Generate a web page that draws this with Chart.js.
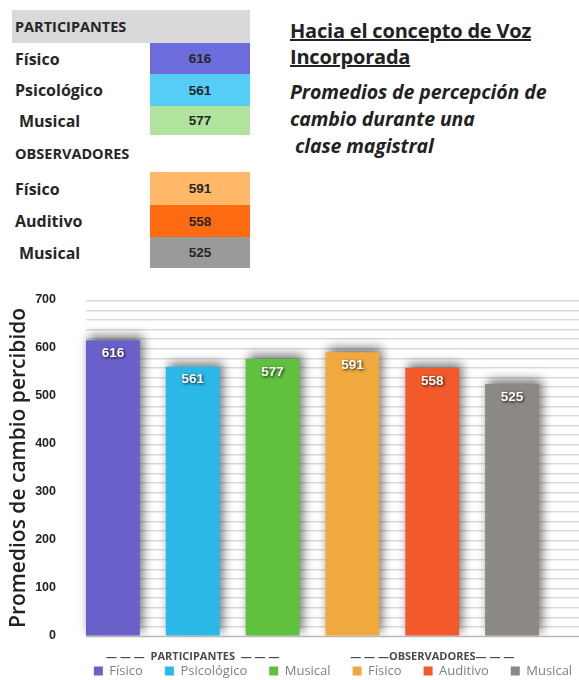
<!DOCTYPE html>
<html><head><meta charset="utf-8">
<script src="https://cdn.jsdelivr.net/npm/chart.js@4.4.1/dist/chart.umd.min.js"></script>
<style>
html,body{margin:0;padding:0;width:579px;height:680px;overflow:hidden;background:#fff;}
#tbl{position:absolute;left:12px;top:10px;width:238px;font-family:'Open Sans',sans-serif;}
.row{display:flex;align-items:stretch;}
.lab{width:138px;display:flex;align-items:center;font-weight:bold;font-size:16px;color:#262626;padding-left:3px;box-sizing:border-box;background:#fff;white-space:nowrap;}
.hdr .lab{font-size:14.5px;}
.val{flex:1;display:flex;align-items:center;justify-content:center;font-family:'Liberation Sans',Arial,sans-serif;font-weight:bold;font-size:13.5px;color:#262626;}
#title{position:absolute;left:290px;top:18px;font-family:'Open Sans',sans-serif;color:#222;}
#title .t{font-weight:bold;font-size:20px;text-decoration:underline;line-height:26px;letter-spacing:-0.2px;}
#title .s{font-weight:bold;font-style:italic;font-size:19.5px;line-height:27px;margin-top:8px;letter-spacing:-0.1px;}
#wrap{position:absolute;left:0;top:270px;width:579px;height:452px;}
</style></head>
<body>
<div id="tbl"></div>
<div id="title"><div class="t">Hacia el concepto de Voz<br>Incorporada</div>
<div class="s">Promedios de percepción de<br>cambio durante una<br>&nbsp;clase magistral</div></div>
<div id="wrap"><canvas id="c"></canvas></div>
<script>
const categories = ['Físico','Psicológico','Musical','Físico','Auditivo','Musical'];
const values = [616, 561, 577, 591, 558, 525];
const barColors = ['#6a60c9','#2bb9e9','#5fc13d','#f0a93e','#f25a2b','#8b8886'];
const tableColors = ['#6c6cdc','#56cdf6','#b0e49c','#ffb968','#ff6b12','#9a9a9a'];
const groups = ['PARTICIPANTES','OBSERVADORES'];
const groupSizes = [3, 3];
const groupTickText = ['— — —  PARTICIPANTES  — — —', '— — —OBSERVADORES— — —'];
const yTitle = 'Promedios de cambio percibido';
const yMin = 0, yMax = 700, yStep = 100, gridStep = 20;

// Table
(function(){
  const tbl = document.getElementById('tbl');
  const rowHeights = [[31,32,29],[33,32,31]];
  let idx = 0;
  groups.forEach((g, gi) => {
    const h = document.createElement('div');
    h.className = 'row hdr';
    h.style.height = (gi === 0 ? 33 : 37) + 'px';
    h.innerHTML = '<div class="lab">' + g + '</div><div class="val"></div>';
    if (gi === 0) { h.style.background = '#d9d9d9'; h.querySelector('.lab').style.background = '#d9d9d9'; }
    tbl.appendChild(h);
    for (let k = 0; k < groupSizes[gi]; k++) {
      const r = document.createElement('div');
      r.className = 'row';
      r.style.height = rowHeights[gi][k] + 'px';
      const pad = categories[idx] === 'Musical' ? 'padding-left:7px' : '';
      r.innerHTML = '<div class="lab" style="' + pad + '">' + categories[idx] + '</div><div class="val" style="background:' + tableColors[idx] + '">' + values[idx] + '</div>';
      tbl.appendChild(r);
      idx++;
    }
  });
})();

const groupCenters = [];
(function(){ let s = 0; groupSizes.forEach(n => { groupCenters.push(s + (n - 1) / 2); s += n; }); })();

const decor = {
  id: 'decor',
  beforeDatasetsDraw(chart) {
    const ctx = chart.ctx, y = chart.scales.y, meta = chart.getDatasetMeta(0);
    const b0 = meta.data[0];
    const x0 = b0.x - b0.width / 2;
    const x1 = chart.width;
    ctx.save();
    for (let v = yMin + gridStep; v <= yMax; v += gridStep) {
      const py = Math.round(y.getPixelForValue(v)) + 0.5;
      ctx.strokeStyle = '#dadada'; ctx.lineWidth = 1;
      ctx.beginPath(); ctx.moveTo(x0, py); ctx.lineTo(x1, py); ctx.stroke();
      ctx.strokeStyle = '#eeeeee';
      ctx.beginPath(); ctx.moveTo(x0, py + 1); ctx.lineTo(x1, py + 1); ctx.stroke();
    }
    const pb = Math.round(y.getPixelForValue(yMin)) + 0.5;
    ctx.strokeStyle = '#b8b8b8'; ctx.lineWidth = 1.5;
    ctx.beginPath(); ctx.moveTo(x0, pb); ctx.lineTo(x1, pb); ctx.stroke();
    ctx.restore();
    ctx.save();
    ctx.shadowColor = 'rgba(0,0,0,0.55)';
    ctx.shadowBlur = 10;
    ctx.shadowOffsetX = 3;
    ctx.shadowOffsetY = -4;
  },
  afterDatasetsDraw(chart) {
    const ctx = chart.ctx;
    ctx.restore();
    const meta = chart.getDatasetMeta(0);
    ctx.save();
    ctx.font = 'bold 13.5px "Liberation Sans", Arial, sans-serif';
    ctx.textAlign = 'center'; ctx.textBaseline = 'middle';
    meta.data.forEach((el, i) => {
      ctx.shadowColor = 'rgba(0,0,0,0.85)';
      ctx.shadowBlur = 3; ctx.shadowOffsetX = 1; ctx.shadowOffsetY = 1;
      ctx.fillStyle = '#ffffff';
      ctx.fillText(String(values[i]), el.x, el.y + 13);
    });
    ctx.restore();
  },
  afterLayout(chart) {
    const lg = chart.legend;
    if (lg) { lg.left = 66; lg.right = 600; lg.top = 372.5; }
  }
};

new Chart(document.getElementById('c'), {
  type: 'bar',
  data: {
    labels: categories,
    datasets: [{
      data: values,
      backgroundColor: barColors,
      borderWidth: 0,
      categoryPercentage: 1,
      barPercentage: 0.675
    }]
  },
  options: {
    responsive: true,
    maintainAspectRatio: false,
    animation: false,
    layout: { padding: { left: 4, right: 27, top: 30, bottom: 0 } },
    plugins: {
      tooltip: { enabled: false },
      legend: {
        position: 'bottom',
        onClick: null,
        labels: {
          boxWidth: 9, boxHeight: 9, padding: 22,
          color: '#808080',
          font: { size: 13, family: '"Open Sans", sans-serif' },
          generateLabels: () => categories.map((c, i) => ({
            text: c, fillStyle: barColors[i], strokeStyle: barColors[i], lineWidth: 0,
            hidden: false, index: i, fontColor: '#808080'
          }))
        }
      }
    },
    scales: {
      x: {
        grid: { display: false, drawTicks: false }, border: { display: false },
        ticks: {
          autoSkip: false, maxRotation: 0, minRotation: 0, padding: 14,
          color: '#4a4a4a', font: { size: 11, weight: 'bold', family: '"Open Sans", sans-serif' },
          callback: (v, i) => { const g = groupCenters.indexOf(i); return g >= 0 ? groupTickText[g] : ''; }
        }
      },
      y: {
        min: yMin, max: yMax,
        afterFit: (s) => { s.width = 69; },
        grid: { display: false, drawTicks: false }, border: { display: false },
        ticks: { stepSize: yStep, padding: 17, color: '#222', font: { size: 12.5, weight: 'bold', family: '"Liberation Sans", Arial, sans-serif' } },
        title: { display: true, text: yTitle, color: '#222', padding: { top: 2, bottom: 6 }, font: { size: 21, weight: '600', family: '"Open Sans", sans-serif' } }
      }
    }
  },
  plugins: [decor]
});
</script>
</body></html>
